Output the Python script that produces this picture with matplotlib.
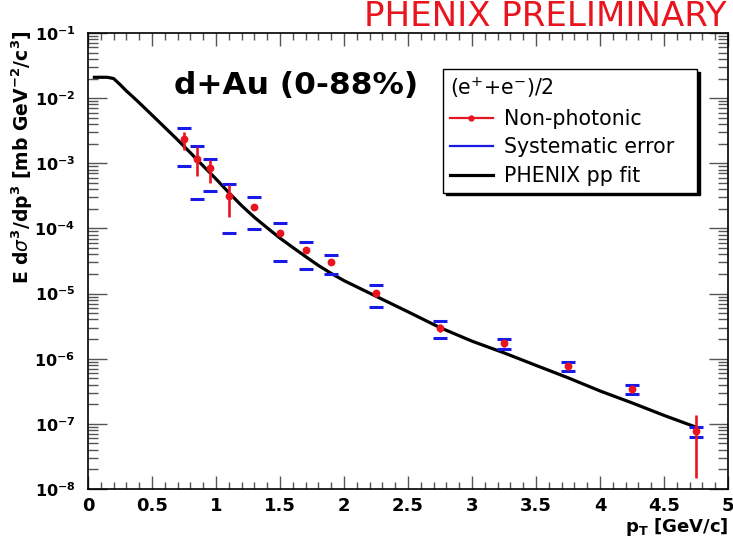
import math
import matplotlib
matplotlib.use("Agg")
import matplotlib.pyplot as plt
from matplotlib.ticker import LogLocator, NullFormatter, FixedLocator, MultipleLocator, FuncFormatter
from matplotlib.lines import Line2D

plt.rcParams['font.family'] = ['DejaVu Sans']
plt.rcParams['mathtext.fontset'] = 'dejavusans'

# ---- data ----
pt = [0.75, 0.85, 0.95, 1.1, 1.3, 1.5, 1.7, 1.9, 2.25, 2.75, 3.25, 3.75, 4.25, 4.75]
yield_np = [2.4e-3, 1.16e-3, 8.4e-4, 3.2e-4, 2.1e-4, 8.5e-5, 4.7e-5, 3.0e-5,
            1.02e-5, 3.0e-6, 1.73e-6, 7.7e-7, 3.4e-7, 7.7e-8]
stat_hi = [3.0e-3, 1.78e-3, 1.12e-3, 4.6e-4, 2.3e-4, 9.4e-5, 5.2e-5, 3.3e-5,
           1.15e-5, 3.4e-6, 1.95e-6, 8.6e-7, 3.8e-7, 1.35e-7]
stat_lo = [1.6e-3, 6.4e-4, 5.0e-4, 1.5e-4, 1.9e-4, 7.7e-5, 4.2e-5, 2.7e-5,
           8.8e-6, 2.6e-6, 1.53e-6, 6.8e-7, 3.0e-7, 1.5e-8]
sys_hi = [3.5e-3, 1.84e-3, 1.16e-3, 4.8e-4, 3.0e-4, 1.2e-4, 6.2e-5, 3.9e-5,
          1.35e-5, 3.8e-6, 2.0e-6, 8.9e-7, 3.9e-7, 8.9e-8]
sys_lo = [9.1e-4, 2.8e-4, 3.7e-4, 8.5e-5, 9.7e-5, 3.2e-5, 2.37e-5, 2.0e-5,
          6.2e-6, 2.1e-6, 1.4e-6, 6.5e-7, 2.85e-7, 6.2e-8]

fit_pt = [0.05, 0.10, 0.15, 0.20, 0.25, 0.30, 0.35, 0.40, 0.50, 0.60, 0.70, 0.80,
          0.90, 1.00, 1.10, 1.20, 1.30, 1.40, 1.50, 1.60, 1.70, 1.80, 1.90, 2.00,
          2.25, 2.50, 2.75, 3.00, 3.25, 3.50, 3.75, 4.00, 4.25, 4.50, 4.75]
fit_val = [2.09e-2, 2.09e-2, 2.09e-2, 2.0e-2, 1.62e-2, 1.29e-2, 1.05e-2, 8.5e-3,
           5.5e-3, 3.55e-3, 2.29e-3, 1.45e-3, 9.1e-4, 5.75e-4, 3.55e-4, 2.24e-4,
           1.48e-4, 1.02e-4, 7.1e-5, 5.1e-5, 3.7e-5, 2.7e-5, 2.04e-5, 1.58e-5,
           9.1e-6, 5.25e-6, 3.0e-6, 1.86e-6, 1.23e-6, 7.9e-7, 5.1e-7, 3.2e-7,
           2.1e-7, 1.35e-7, 8.9e-8]

x_ticks = [0, 0.5, 1, 1.5, 2, 2.5, 3, 3.5, 4, 4.5, 5]
x_ticklabels = ['0', '0.5', '1', '1.5', '2', '2.5', '3', '3.5', '4', '4.5', '5']
legend_labels = ['Non-photonic', 'Systematic error', 'PHENIX pp fit']

RED = '#e8141e'
BLUE = '#1a1ae6'

fig = plt.figure(figsize=(7.33, 5.40), dpi=100)
ax = fig.add_axes([88/733, 1-489/540, 640/733, 456/540])

ax.set_xlim(0, 5)
ax.set_yscale('log')
ax.set_ylim(1e-8, 1e-1)

# fit
ax.plot(fit_pt, fit_val, color='black', lw=2.3, zorder=3)

# systematic error dashes
ax.plot(pt, sys_hi, ls='none', marker='_', ms=9.5, mew=2.2, color=BLUE, zorder=4)
ax.plot(pt, sys_lo, ls='none', marker='_', ms=9.5, mew=2.2, color=BLUE, zorder=4)

# stat error bars
ax.vlines(pt, stat_lo, stat_hi, color=RED, lw=1.9, zorder=5)
ax.plot(pt, yield_np, ls='none', marker='o', ms=4.6, color=RED, mec=RED, zorder=6)

# ticks
ax.xaxis.set_major_locator(FixedLocator(x_ticks))
ax.set_xticklabels(x_ticklabels)
ax.xaxis.set_minor_locator(MultipleLocator(0.1))
ax.yaxis.set_major_locator(LogLocator(base=10, numticks=20))
ax.yaxis.set_minor_locator(LogLocator(base=10, subs=range(2, 10), numticks=20))
ax.yaxis.set_minor_formatter(NullFormatter())

def yfmt(v, pos):
    e = int(round(math.log10(v)))
    return r'$\mathbf{10^{%d}}$' % e
ax.yaxis.set_major_formatter(FuncFormatter(yfmt))

ax.tick_params(which='both', direction='in', top=True, right=True, color='#555555', width=1.0)
ax.tick_params(axis='x', which='major', length=9.5, pad=6)
ax.tick_params(axis='x', which='minor', length=5)
ax.tick_params(axis='y', which='major', length=14, pad=9)
ax.tick_params(axis='y', which='minor', length=7)
for lab in ax.get_xticklabels():
    lab.set_fontsize(13)
    lab.set_fontweight('bold')
for lab in ax.get_yticklabels():
    lab.set_fontsize(11.5)
    lab.set_fontweight('bold')

for s in ax.spines.values():
    s.set_linewidth(1.2)
    s.set_color('black')

# axis titles
fig.text(728/733, 1-527/540, r'p$_{\mathbf{T}}$ [GeV/c]', ha='right', va='center',
         fontsize=13, fontweight='bold')
fig.text(22/733, 1-30/540, r'E d$\sigma^{\mathbf{3}}$/dp$^{\mathbf{3}}$ [mb GeV$^{\mathbf{-2}}$/c$^{\mathbf{3}}$]',
         rotation=90, ha='center', va='top', fontsize=13.5, fontweight='bold')

# labels
fig.text(727/733, 1-0/540, 'PHENIX PRELIMINARY', ha='right', va='top',
         color=RED, fontsize=24.5)
fig.text(174/733, 1-86/540, 'd+Au (0-88%)', ha='left', va='center',
         fontsize=22.5, fontweight='bold')

# legend
handles = [
    Line2D([], [], color=RED, lw=1.6, marker='o', ms=3.5),
    Line2D([], [], color=BLUE, lw=1.6),
    Line2D([], [], color='black', lw=2.3),
]
leg = fig.legend(handles, legend_labels, title='(e$^{+}$+e$^{-}$)/2', loc='upper left',
                 bbox_to_anchor=(443/733, 1-191/540, 254/733, 122/540), mode='expand',
                 frameon=True, fancybox=False,
                 shadow={'color': 'black', 'alpha': 1.0}, edgecolor='black',
                 fontsize=14.8, title_fontsize=14.8, alignment='left',
                 handlelength=2.1, handletextpad=0.55, labelspacing=0.42,
                 borderpad=0.32, borderaxespad=0.0)
leg.get_frame().set_linewidth(1.0)

fig.savefig('out.png', dpi=100)
